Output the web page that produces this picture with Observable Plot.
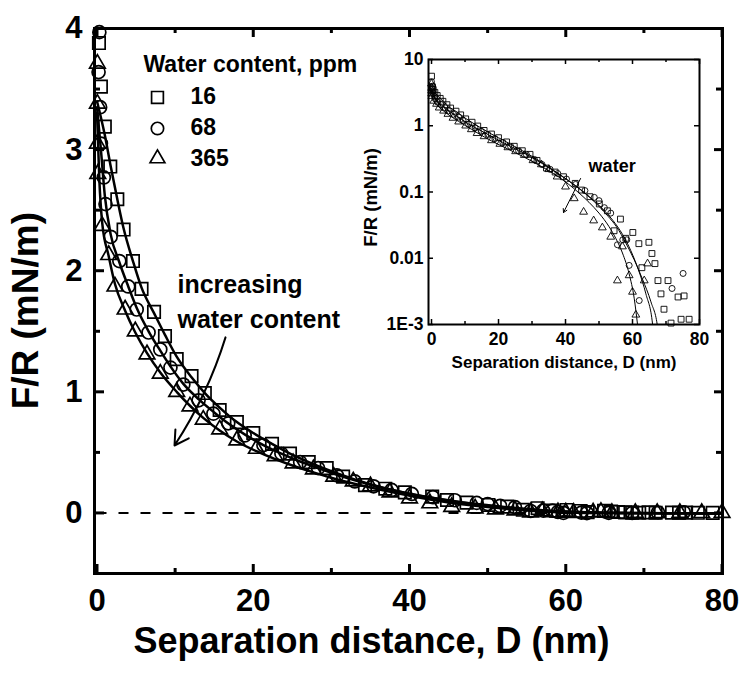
<!DOCTYPE html>
<html><head><meta charset="utf-8">
<script src="https://cdn.jsdelivr.net/npm/d3@7"></script>
<script src="https://cdn.jsdelivr.net/npm/@observablehq/plot@0.6"></script>
<style>
body{margin:0;background:#fff;}
#wrap{position:relative;width:741px;height:675px;overflow:hidden;}
#wrap svg{position:absolute;left:0;top:0;}
</style></head><body><div id="wrap"></div>
<script>
// ---- data ----
const waterContent = ["16", "68", "365"];
const legendTitle = "Water content, ppm";

// measured points (D in nm, F/R in mN/m)
const d16 = [0, 0.25, 0.5, 1.0, 1.7, 2.6, 3.4, 4.6, 5.7, 7.3, 8.7, 10.2, 12.1, 13.8, 15.7, 17.9, 20.0, 22.4, 24.7, 27.1, 29.4, 31.5, 34.3, 36.9, 39.4, 42.9, 44.8, 47.3, 50.1, 52.5, 54.5, 56.4, 58.0, 60.1, 61.9, 62.8, 64.9, 65.8, 66.7, 67.6, 68.5, 69.4, 70.6, 71.5, 73.6, 74.5, 75.4, 76.9, 78.8];
const f16 = [5.6, 3.88, 3.52, 3.19, 2.86, 2.59, 2.34, 2.08, 1.85, 1.66, 1.46, 1.27, 1.13, 0.99, 0.85, 0.75, 0.66, 0.57, 0.49, 0.42, 0.37, 0.30, 0.23, 0.20, 0.17, 0.135, 0.107, 0.085, 0.066, 0.052, 0.026, 0.039, 0.02, 0.0245, 0.0166, 0.0072, 0.0174, 0.0118, 0.0083, 0.0046, 0.0029, 0.0017, 0.0046, 0.00105, 0.0026, 0.0012, 0.0027, 0.0012, 0.0008];

const d68 = [0, 0.2, 0.3, 0.4, 0.5, 0.87, 1.09, 1.75, 2.86, 4.0, 5.08, 6.6, 8.1, 9.4, 11.05, 13.0, 14.9, 16.8, 18.9, 21.3, 23.6, 26.0, 28.3, 30.7, 33.0, 35.4, 37.7, 40.3, 43.0, 45.8, 48.6, 50.0, 51.6, 53.5, 55.5, 57.1, 58.3, 59.0, 59.7, 62.0, 62.7, 65.5, 68.5, 71.8, 75.1];
const f68 = [4.6, 3.64, 3.97, 3.35, 3.05, 2.77, 2.55, 2.28, 2.08, 1.87, 1.68, 1.49, 1.35, 1.20, 1.06, 0.93, 0.82, 0.74, 0.64, 0.56, 0.49, 0.42, 0.37, 0.31, 0.26, 0.22, 0.19, 0.157, 0.13, 0.105, 0.083, 0.074, 0.058, 0.048, 0.016, 0.019, 0.019, 0.0078, 0.0003, 0.0023, -0.001, 0.0005, -0.0005, 0.0035, 0.0059];

const d365 = [0, 0.05, 0.05, 0.05, 0.1, 0.66, 1.5, 2.3, 3.6, 4.9, 6.4, 8.1, 10.2, 11.9, 13.6, 15.7, 17.9, 20.4, 22.8, 25.1, 27.7, 30.3, 32.8, 35.0, 37.5, 40.0, 42.6, 45.4, 48.4, 51.0, 53.5, 55.5, 57.0, 59.0, 60.0, 61.0, 63.5, 64.5, 65.9, 68.9, 71.7, 74.6, 77.4, 80.0];
const f365 = [4.3, 3.71, 3.38, 3.05, 2.8, 2.37, 2.13, 1.87, 1.68, 1.5, 1.31, 1.15, 1.0, 0.88, 0.77, 0.69, 0.6, 0.53, 0.47, 0.41, 0.36, 0.30, 0.26, 0.22, 0.17, 0.12, 0.08, 0.05, 0.037, 0.029, 0.021, 0.0046, 0.015, 0.0055, 0.0031, 0.0014, 0.0046, 0.0083, -0.001, 0.0004, -0.0008, 0.0002, -0.0005, 0.0003];

// fitted curves
const fitD16 = [0, 1, 1.7, 2.6, 3.4, 4.6, 5.7, 7.3, 8.7, 10.2, 12.1, 13.8, 15.7, 17.9, 20, 22.4, 24.7, 27.1, 29.4, 31.5, 34.3, 36.9, 39.4, 42.9, 44.8, 47.3, 50.1, 52.7, 55.2, 58, 60.5, 63, 65.5, 67.5, 68.5, 70, 75, 80];
const fitF16 = [3.4, 3.12, 2.88, 2.59, 2.35, 2.08, 1.86, 1.65, 1.47, 1.29, 1.12, 0.99, 0.87, 0.75, 0.66, 0.57, 0.49, 0.42, 0.36, 0.31, 0.25, 0.205, 0.168, 0.125, 0.105, 0.082, 0.06, 0.043, 0.03, 0.017, 0.0095, 0.0048, 0.0022, 0.0009, 0.0002, -0.0008, -0.003, -0.004];
const fitD68 = [0, 0.5, 1.0, 1.75, 2.86, 4, 5.1, 6.6, 8.1, 9.4, 11, 13, 15, 17, 19, 21.3, 23.6, 26, 28.3, 30.7, 33, 35.4, 37.7, 40.3, 43, 45.8, 48.6, 51.5, 54.2, 57, 59.5, 62, 64, 66, 67, 68, 72, 80];
const fitF68 = [3.35, 3.0, 2.62, 2.3, 2.07, 1.87, 1.69, 1.5, 1.34, 1.21, 1.07, 0.94, 0.83, 0.73, 0.645, 0.56, 0.49, 0.425, 0.37, 0.315, 0.27, 0.225, 0.19, 0.155, 0.124, 0.097, 0.073, 0.053, 0.037, 0.023, 0.013, 0.0062, 0.0029, 0.001, 0.0002, -0.0005, -0.002, -0.004];
const fitD365 = [0, 0.3, 0.66, 1.5, 2.3, 3.6, 4.9, 6.4, 8.1, 10.2, 11.9, 13.6, 15.7, 17.9, 20.4, 22.8, 25.1, 27.7, 30.3, 32.8, 35, 38, 41, 44, 47, 50, 53, 55, 57, 59, 60.5, 61.5, 62.5, 65, 70, 80];
const fitF365 = [3.3, 2.75, 2.4, 2.12, 1.89, 1.67, 1.49, 1.32, 1.16, 1.0, 0.885, 0.785, 0.68, 0.59, 0.51, 0.445, 0.39, 0.335, 0.285, 0.243, 0.21, 0.168, 0.13, 0.097, 0.07, 0.048, 0.03, 0.02, 0.012, 0.0058, 0.0025, 0.001, -0.0003, -0.002, -0.003, -0.004];

// ticks
const xTicks = [0, 20, 40, 60, 80];
const xMinor = [10, 30, 50, 70];
const yTicks = [0, 1, 2, 3, 4];
const yMinor = [0.5, 1.5, 2.5, 3.5];
const insetYTicks = [0.001, 0.01, 0.1, 1, 10];
const insetYLabels = ["1E-3", "0.01", "0.1", "1", "10"];

const xTitle = "Separation distance, D (nm)";
const yTitle = "F/R (mN/m)";
const annot1 = ["increasing", "water content"];
const annot2 = "water";

// ---- build ----
const rows = (D, F) => D.map((d, i) => ({D: d, F: F[i]}));
const s16 = rows(d16, f16), s68 = rows(d68, f68), s365 = rows(d365, f365);
const c16 = rows(fitD16, fitF16), c68 = rows(fitD68, fitF68), c365 = rows(fitD365, fitF365);
const FONT = "'Liberation Sans', Arial, Helvetica, sans-serif";
const inMain = d => d.F <= 4.03;
const inLog = d => d.F >= 0.00095;

// scale geometry
const MX = [-0.32, 80.06], MY = [-0.5, 4];
const mainW = 741 - 94 - 19, mainH = 675 - 28 - 102;
const pxX = mainW / (MX[1] - MX[0]), pxY = mainH / (MY[1] - MY[0]);
const IX = [-0.9, 80], IY = [1e-3, 10];
const insW = 741 - 428 - 42, insH = 675 - 59 - 351;
const ipxX = insW / (IX[1] - IX[0]), ipxDec = insH / 4;

// layout (annotation anchors, in data units)
const L = {
  legTitle: {x: 5.95, y: 3.698},
  legSymX: 7.74, legSymY: [3.431, 3.175, 2.927],
  legTextX: 11.97, legTextY: [3.434, 3.178, 2.922],
  ann: {x: 10.3, y: [1.886, 1.597]},
  arrow: {x1: 16.45, y1: 1.45, x2: 9.92, y2: 0.557},
  yTitle: {x: -9.1, y: 1.67},
  water: {x: 46.9, y: 0.243},
  arrow2: {x1: 44.5, y1: 0.16, x2: 39.4, y2: 0.049},
  iyTitle: {x: -17.9, y: 0.083}
};
const symbols = ["square", "circle", "triangle"];
const rMain = [7, 6.5, 5.8];
const rInset = [3.3, 3.0, 2.9];

// inward tick marks
function ticksMain(len, vals, side, sw) {
  if (side === "bottom") return Plot.ruleX(vals, {y1: MY[0], y2: MY[0] + len / pxY, stroke: "black", strokeWidth: sw});
  if (side === "top") return Plot.ruleX(vals, {y1: MY[1], y2: MY[1] - len / pxY, stroke: "black", strokeWidth: sw});
  if (side === "left") return Plot.ruleY(vals, {x1: MX[0], x2: MX[0] + len / pxX, stroke: "black", strokeWidth: sw});
  return Plot.ruleY(vals, {x1: MX[1], x2: MX[1] - len / pxX, stroke: "black", strokeWidth: sw});
}
function ticksInset(len, vals, side, sw) {
  const f = Math.pow(10, len / ipxDec);
  if (side === "bottom") return Plot.ruleX(vals, {y1: IY[0], y2: IY[0] * f, stroke: "black", strokeWidth: sw});
  if (side === "top") return Plot.ruleX(vals, {y1: IY[1], y2: IY[1] / f, stroke: "black", strokeWidth: sw});
  if (side === "left") return Plot.ruleY(vals, {x1: IX[0], x2: IX[0] + len / ipxX, stroke: "black", strokeWidth: sw});
  return Plot.ruleY(vals, {x1: IX[1], x2: IX[1] - len / ipxX, stroke: "black", strokeWidth: sw});
}

const main = Plot.plot({
  width: 741, height: 675,
  marginLeft: 94, marginRight: 19, marginTop: 28, marginBottom: 102,
  x: {domain: MX, label: null},
  y: {domain: MY, label: null},
  style: {fontFamily: FONT, fontWeight: "bold", background: "transparent", overflow: "visible", color: "black"},
  marks: [
    Plot.ruleY([0], {x1: 0, x2: 80, stroke: "black", strokeWidth: 2, strokeDasharray: "10,12"}),
    Plot.line(c16, {x: "D", y: "F", stroke: "black", strokeWidth: 2.5, curve: "monotone-x"}),
    Plot.line(c68, {x: "D", y: "F", stroke: "black", strokeWidth: 2.5, curve: "monotone-x"}),
    Plot.line(c365, {x: "D", y: "F", stroke: "black", strokeWidth: 2.5, curve: "monotone-x"}),
    Plot.dot(s16.filter(inMain), {x: "D", y: "F", symbol: symbols[0], r: rMain[0], stroke: "black", fill: "none", strokeWidth: 1.7}),
    Plot.dot(s68.filter(inMain), {x: "D", y: "F", symbol: symbols[1], r: rMain[1], stroke: "black", fill: "none", strokeWidth: 1.7}),
    Plot.dot(s365.filter(inMain), {x: "D", y: "F", symbol: symbols[2], r: rMain[2], stroke: "black", fill: "none", strokeWidth: 1.7}),
    Plot.frame({stroke: "black", strokeWidth: 3}),
    ticksMain(9, xTicks, "bottom", 3), ticksMain(5, xMinor, "bottom", 3),
    ticksMain(9, xTicks, "top", 3), ticksMain(5, xMinor, "top", 3),
    ticksMain(10, yTicks, "left", 3), ticksMain(6, yMinor, "left", 3),
    ticksMain(8, yTicks, "right", 3), ticksMain(6, yMinor, "right", 3),
    Plot.axisX({ticks: xTicks, anchor: "bottom", tickSize: 0, tickPadding: 15, fontSize: 31, fontWeight: "bold", label: null, tickFormat: d => String(d)}),
    Plot.axisY({ticks: yTicks, anchor: "left", tickSize: 0, tickPadding: 12, fontSize: 31, fontWeight: "bold", label: null, tickFormat: d => String(d)}),
    Plot.text([xTitle], {frameAnchor: "bottom", dx: -37, dy: 79, fontSize: 36, fontWeight: "bold"}),
    Plot.text([yTitle], {x: L.yTitle.x, y: L.yTitle.y, rotate: -90, fontSize: 37, fontWeight: "bold"}),
    // legend
    Plot.text([legendTitle], {x: L.legTitle.x, y: L.legTitle.y, textAnchor: "start", fontSize: 23, fontWeight: "bold"}),
    ...waterContent.map((w, i) => Plot.dot([w], {x: L.legSymX, y: L.legSymY[i], symbol: symbols[i], r: rMain[i] * 0.95, stroke: "black", fill: "none", strokeWidth: 1.7})),
    Plot.text(waterContent, {x: L.legTextX, y: (d, i) => L.legTextY[i], text: d => d, textAnchor: "start", fontSize: 23, fontWeight: "bold"}),
    // annotation
    Plot.text(annot1, {x: L.ann.x, y: (d, i) => L.ann.y[i], text: d => d, textAnchor: "start", fontSize: 25, fontWeight: "bold"}),
    Plot.arrow([L.arrow], {x1: "x1", y1: "y1", x2: "x2", y2: "y2", bend: 8, headLength: 12, strokeWidth: 2, stroke: "black"})
  ]
});

const inset = Plot.plot({
  width: 741, height: 675,
  marginLeft: 428, marginRight: 42, marginTop: 59, marginBottom: 351,
  x: {domain: IX, label: null},
  y: {type: "log", domain: IY, label: null},
  style: {fontFamily: FONT, fontWeight: "bold", background: "transparent", overflow: "visible", color: "black"},
  marks: [
    Plot.line(c16.filter(d => d.F > 0), {x: "D", y: "F", stroke: "black", strokeWidth: 1, curve: "monotone-x", clip: true}),
    Plot.line(c68.filter(d => d.F > 0), {x: "D", y: "F", stroke: "black", strokeWidth: 1, curve: "monotone-x", clip: true}),
    Plot.line(c365.filter(d => d.F > 0), {x: "D", y: "F", stroke: "black", strokeWidth: 1, curve: "monotone-x", clip: true}),
    Plot.dot(s16.filter(inLog), {x: "D", y: "F", symbol: symbols[0], r: rInset[0], stroke: "black", fill: "none", strokeWidth: 0.9}),
    Plot.dot(s68.filter(inLog), {x: "D", y: "F", symbol: symbols[1], r: rInset[1], stroke: "black", fill: "none", strokeWidth: 0.9}),
    Plot.dot(s365.filter(inLog), {x: "D", y: "F", symbol: symbols[2], r: rInset[2], stroke: "black", fill: "none", strokeWidth: 0.9}),
    Plot.frame({stroke: "black", strokeWidth: 2}),
    ticksInset(5, xTicks, "bottom", 1.5), ticksInset(3, xMinor, "bottom", 1.5),
    ticksInset(5, xTicks, "top", 1.5), ticksInset(3, xMinor, "top", 1.5),
    ticksInset(5, insetYTicks, "left", 1.5), ticksInset(5, insetYTicks, "right", 1.5),
    Plot.axisX({ticks: xTicks, anchor: "bottom", tickSize: 0, tickPadding: 8, fontSize: 17.5, fontWeight: "bold", label: null, tickFormat: d => String(d)}),
    Plot.axisY({ticks: insetYTicks, anchor: "left", tickSize: 0, tickPadding: 5, fontSize: 17.5, fontWeight: "bold", label: null, tickFormat: d => insetYLabels[insetYTicks.indexOf(d)]}),
    Plot.text([xTitle], {frameAnchor: "bottom", dy: 43, fontSize: 17, fontWeight: "bold"}),
    Plot.text([yTitle], {x: L.iyTitle.x, y: L.iyTitle.y, rotate: -90, fontSize: 18.5, fontWeight: "bold"}),
    Plot.text([annot2], {x: L.water.x, y: L.water.y, textAnchor: "start", fontSize: 18, fontWeight: "bold"}),
    Plot.arrow([L.arrow2], {x1: "x1", y1: "y1", x2: "x2", y2: "y2", headLength: 6, strokeWidth: 1, stroke: "black"})
  ]
});

const wrap = document.getElementById("wrap");
wrap.append(main, inset);
</script>
</body></html>
